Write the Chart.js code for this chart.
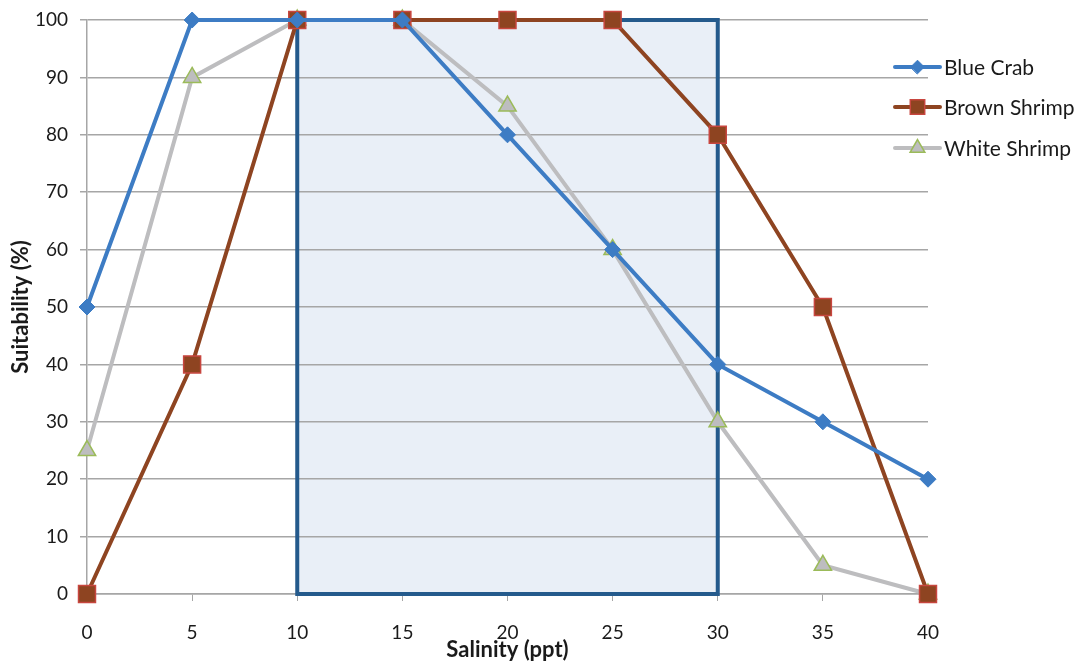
<!DOCTYPE html>
<html>
<head>
<meta charset="utf-8">
<script src="https://cdn.jsdelivr.net/npm/chart.js@4"></script>
<style>
  html, body { margin: 0; padding: 0; background: #fff; }
  #wrap { width: 1083px; height: 663px; }
</style>
</head>
<body>
<div id="wrap"><canvas id="myChart"></canvas></div>
<script>
const salinity = [0, 5, 10, 15, 20, 25, 30, 35, 40];
const blueCrab = [50, 100, 100, 100, 80, 60, 40, 30, 20];
const brownShrimp = [0, 40, 100, 100, 100, 100, 80, 50, 0];
const whiteShrimp = [25, 90, 100, 100, 85, 60, 30, 5, 0];
const optimalRange = [10, 30];
const optimalLevels = [0, 100];

const FONT = 'Lato, "Open Sans", sans-serif';

function toPoints(vals){
  return vals.map((v, i) => ({x: salinity[i], y: v}));
}

// shaded optimal box, fill under the grid, border above it
const boxPlugin = {
  id: 'box',
  rect(chart){
    const xs = chart.scales.x, ys = chart.scales.y;
    return {
      l: xs.getPixelForValue(optimalRange[0]),
      r: xs.getPixelForValue(optimalRange[1]),
      t: ys.getPixelForValue(optimalLevels[1]),
      b: ys.getPixelForValue(optimalLevels[0])
    };
  },
  beforeDraw(chart){
    const b = this.rect(chart), ctx = chart.ctx;
    ctx.save();
    ctx.fillStyle = '#e9eff7';
    ctx.fillRect(b.l, b.t, b.r - b.l, b.b - b.t);
    ctx.restore();
  },
  beforeDatasetsDraw(chart){
    const b = this.rect(chart), ctx = chart.ctx;
    ctx.save();
    ctx.strokeStyle = '#245a8c';
    ctx.lineWidth = 4;
    ctx.strokeRect(b.l, b.t, b.r - b.l, b.b - b.t);
    ctx.restore();
  }
};

// legend with line + marker samples
const legendPlugin = {
  id: 'sideLegend',
  afterDraw(chart){
    const ctx = chart.ctx;
    const x0 = 895, x1 = 940, ys = [67, 107, 148];
    chart.data.datasets.forEach((ds, i) => {
      const y = ys[i];
      ctx.save();
      ctx.strokeStyle = ds.borderColor;
      ctx.lineWidth = 4;
      ctx.lineCap = 'round';
      ctx.beginPath();
      ctx.moveTo(x0, y);
      ctx.lineTo(x1, y);
      ctx.stroke();
      ctx.lineWidth = ds.pointBorderWidth;
      ctx.strokeStyle = ds.pointBorderColor;
      ctx.fillStyle = ds.pointBackgroundColor;
      Chart.helpers.drawPoint(ctx, {
        pointStyle: ds.pointStyle, rotation: 0,
        radius: ds.pointRadius * 0.85, borderWidth: ds.pointBorderWidth
      }, (x0 + x1) / 2, y);
      ctx.fillStyle = '#1a1a1a';
      ctx.font = '21px ' + FONT;
      ctx.textBaseline = 'middle';
      ctx.fillText(ds.label, x1 + 4, y + 1);
      ctx.restore();
    });
  }
};

const ctx = document.getElementById('myChart');
new Chart(ctx, {
  type: 'line',
  data: {
    datasets: [
      {
        label: 'Blue Crab',
        data: toPoints(blueCrab),
        borderColor: '#3d7cc4',
        backgroundColor: '#3d7cc4',
        pointBackgroundColor: '#3d7cc4',
        pointBorderColor: '#3d7cc4',
        pointBorderWidth: 1,
        pointStyle: 'rectRot',
        pointRadius: 8,
        borderWidth: 4,
        clip: false
      },
      {
        label: 'Brown Shrimp',
        data: toPoints(brownShrimp),
        borderColor: '#8e4421',
        backgroundColor: '#8e4421',
        pointBackgroundColor: '#8e4421',
        pointBorderColor: '#c8463f',
        pointBorderWidth: 1.5,
        pointStyle: 'rect',
        pointRadius: 12,
        borderWidth: 4,
        clip: false
      },
      {
        label: 'White Shrimp',
        data: toPoints(whiteShrimp),
        borderColor: '#bdbdbf',
        backgroundColor: '#bdbdbf',
        pointBackgroundColor: '#bdbdbf',
        pointBorderColor: '#9bbb59',
        pointBorderWidth: 1.5,
        pointStyle: 'triangle',
        pointRadius: 10,
        borderWidth: 4,
        clip: false
      }
    ]
  },
  options: {
    responsive: true,
    maintainAspectRatio: false,
    animation: false,
    layout: { padding: { top: 20, right: 155, left: 0, bottom: 0 } },
    plugins: {
      legend: { display: false },
      tooltip: { enabled: false }
    },
    scales: {
      x: {
        type: 'linear',
        min: 0,
        max: 40,
        ticks: { stepSize: 5, color: '#1a1a1a', font: { family: FONT, size: 19 }, padding: 20 },
        grid: { drawOnChartArea: false, drawTicks: true, tickLength: 7, color: '#a6a6a6' },
        border: { color: '#a6a6a6', width: 1.5 },
        title: { display: true, text: 'Salinity (ppt)', color: '#1a1a1a', font: { family: FONT, size: 22, weight: 'bold' }, padding: { top: -12, bottom: 0 } },
        afterFit(scale){ scale.height = 69; }
      },
      y: {
        min: 0,
        max: 100,
        ticks: { stepSize: 10, color: '#1a1a1a', font: { family: FONT, size: 19 }, padding: 12 },
        grid: { color: '#a6a6a6', lineWidth: 1.5, tickLength: 7 },
        border: { color: '#a6a6a6', width: 1.5 },
        title: { display: true, text: 'Suitability (%)', color: '#1a1a1a', font: { family: FONT, size: 22, weight: 'bold' }, padding: { top: 8, bottom: 0 } },
        afterFit(scale){ scale.width = 87; scale.paddingTop = 0; scale.paddingBottom = 0; }
      }
    }
  },
  plugins: [boxPlugin, legendPlugin]
});
</script>
</body>
</html>
